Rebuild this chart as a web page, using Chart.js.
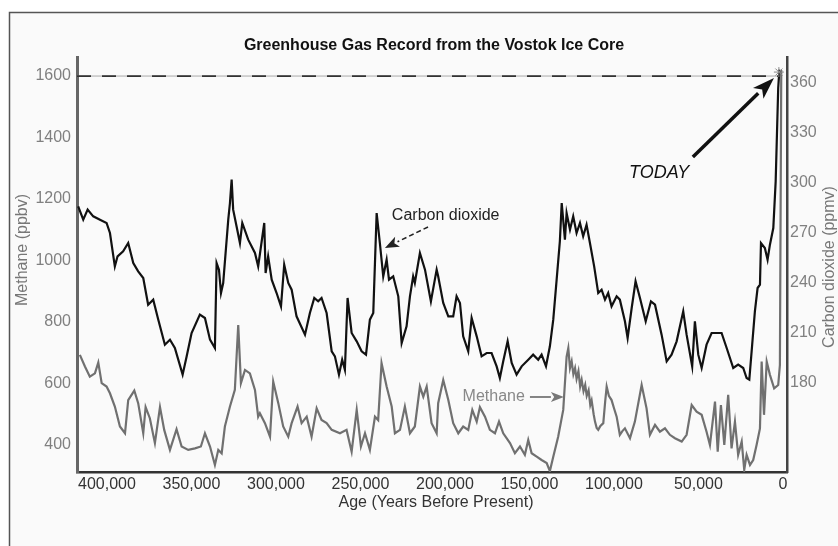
<!DOCTYPE html>
<html>
<head>
<meta charset="utf-8">
<title>Greenhouse Gas Record from the Vostok Ice Core</title>
<script src="https://cdn.jsdelivr.net/npm/chart.js@4.4.1/dist/chart.umd.min.js"></script>
<style>
  html, body { margin: 0; padding: 0; background: #fff; }
  canvas { display: block; }
</style>
</head>
<body>
<canvas id="chart" width="838" height="546"></canvas>
<script>
// values (age in years before present)
const co2Age = [417000, 414000, 411400, 408100, 404100, 400200, 398200, 395300, 393700, 390400,
  387400, 384400, 381500, 378500, 375600, 372600, 369600, 365700, 362700, 359800,
  355200, 352800, 349900, 345000, 342000, 339000, 336100, 335100, 333700, 332500,
  331200, 328200, 327200, 326200, 325300, 323300, 321300, 319900, 316400, 312400,
  310500, 306900, 306100, 304600, 302500, 299600, 297000, 295100, 292700, 290700,
  287800, 282800, 279900, 277300, 275000, 273000, 270000, 267000, 265100, 262700,
  260800, 259200, 257600, 255200, 252200, 249300, 246700, 244400, 242400, 240400,
  238500, 236500, 234500, 233100, 230600, 227600, 225600, 222700, 220700, 218800,
  217800, 214800, 211800, 208300, 204900, 204000, 201000, 198000, 195100, 193100,
  191100, 189200, 186200, 184200, 181200, 178300, 175300, 172400, 169400, 167500,
  165500, 162900, 160500, 157600, 154600, 150700, 147800, 144800, 142800, 140200,
  137900, 135900, 133900, 132000, 130900, 129000, 128000, 126000, 124100, 122100,
  120100, 118200, 116200, 114200, 111700, 109300, 107300, 105300, 103400, 101400,
  98400, 96500, 93500, 91900, 89500, 87200, 84600, 81200, 78100, 75700,
  71800, 68800, 65900, 62900, 59000, 57000, 53700, 52100, 50100, 48100,
  45200, 42200, 36300, 33300, 29400, 26500, 23500, 21500, 19900, 18200,
  16600, 15000, 13600, 13000, 10700, 9100, 7700, 5700, 4300, 2800, 2100];
const co2Ppmv = [286, 278, 284, 280, 278, 276, 270, 250, 256, 259,
  264, 252, 247, 243, 227, 230, 218, 203, 206, 201,
  185, 196, 210, 221, 219, 206, 201, 252, 248, 234,
  240, 278, 288, 302, 284, 274, 264, 276, 266, 258,
  250, 276, 246, 256, 242, 234, 226, 251, 240, 236,
  220, 209, 222, 231, 229, 231, 222, 199, 196, 185,
  194, 188, 231, 210, 205, 199, 197, 218, 222, 282,
  264, 244, 254, 242, 244, 232, 204, 214, 232, 244,
  240, 258, 248, 229, 248, 244, 228, 220, 220, 232,
  228, 208, 199, 219, 208, 196, 198, 198, 190, 183,
  193, 205, 192, 185, 190, 194, 197, 194, 197, 190,
  202, 218, 242, 265, 288, 266, 282, 272, 280, 270,
  276, 268, 275, 264, 250, 234, 236, 230, 234, 226,
  232, 230, 217, 207, 225, 241, 231, 217, 229, 227,
  209, 193, 197, 205, 223, 209, 190, 217, 197, 189,
  203, 210, 210, 201, 189, 191, 189, 183, 182, 203,
  223, 237, 239, 264, 261, 254, 263, 273, 301, 357, 368];

const ch4Age = [416000, 413000, 410100, 407100, 405100, 403100, 400200, 398200, 395300, 392300,
  389300, 387400, 383800, 381500, 378500, 377100, 374600, 371600, 368600, 366100,
  362700, 358800, 355800, 351900, 347900, 344400, 342000, 339000, 336100, 334100,
  332100, 330200, 327200, 324300, 322300, 320700, 318300, 315400, 312400, 310500,
  309500, 306500, 303500, 301600, 298600, 295700, 292700, 290700, 287200, 284800,
  281800, 278900, 275900, 273000, 270000, 267000, 262100, 258200, 255200, 252200,
  249700, 247300, 244400, 241400, 239500, 237500, 234500, 231500, 229600, 226600,
  223700, 220700, 217800, 214800, 212800, 210800, 207900, 204900, 204000, 201000,
  198000, 195100, 192100, 189200, 186200, 183800, 181200, 179300, 176300, 173400,
  170400, 168000, 165500, 161500, 158600, 155600, 152700, 150700, 148700, 145700,
  142800, 139800, 137900, 135900, 133000, 130000, 128000, 127000, 126000, 125000,
  124000, 123000, 122100, 121000, 120000, 119100, 118000, 117000, 116100, 115000,
  114000, 113200, 112000, 111200, 110200, 109300, 108000, 106300, 105200, 104300,
  103000, 101400, 100000, 98400, 96500, 95000, 93500, 90500, 87600, 83600,
  80700, 78700, 75700, 72800, 69800, 66900, 63900, 59900, 57000, 54000,
  51100, 48100, 45200, 43200, 40200, 38600, 36700, 34700, 32400, 30400,
  28400, 26500, 24400, 22900, 21500, 19500, 17600, 15600, 13600, 12600,
  11200, 9600, 7700, 5200, 2800, 1800, 1000];
const ch4Ppbv = [693, 655, 622, 633, 668, 601, 590, 568, 525, 460,
  438, 546, 577, 536, 438, 523, 487, 406, 523, 449,
  384, 451, 395, 384, 389, 395, 438, 395, 335, 384,
  373, 460, 525, 579, 790, 601, 644, 633, 579, 492,
  503, 471, 427, 606, 536, 460, 427, 471, 525, 471,
  492, 427, 519, 481, 471, 449, 438, 449, 378, 514,
  395, 438, 384, 492, 481, 666, 590, 525, 438, 449,
  525, 438, 460, 590, 557, 590, 471, 438, 536, 611,
  546, 471, 438, 460, 449, 514, 476, 523, 492, 449,
  438, 476, 438, 406, 373, 395, 368, 416, 373, 362,
  351, 341, 315, 362, 427, 514, 687, 715, 650, 672,
  630, 650, 615, 640, 590, 612, 575, 595, 560, 578,
  530, 545, 500, 476, 455, 449, 462, 471, 540, 590,
  560, 546, 520, 492, 433, 445, 454, 422, 476, 595,
  519, 433, 465, 443, 454, 433, 422, 411, 433, 530,
  508, 498, 443, 400, 541, 378, 530, 400, 563, 389,
  476, 368, 411, 319, 368, 335, 351, 400, 454, 671,
  498, 671, 628, 584, 595, 660, 1620];

const ageTicks = [400000, 350000, 300000, 250000, 200000, 150000, 100000, 50000, 0];
const ch4Ticks = [400, 600, 800, 1000, 1200, 1400, 1600];
const co2Ticks = [180, 210, 240, 270, 300, 330, 360];

// annotation anchors, in data units (age, methane ppbv)
const todayLine = 1600;
const notes = {
  star: [2400, 1613],
  today: [91100, 1268],
  todayArrow: [[53300, 1337], [5300, 1594]],
  co2Label: [231400, 1145],
  co2Arrow: [[210000, 1109], [235500, 1041]],
  ch4Label: [152700, 556],
  ch4Arrow: [[149700, 556], [129600, 556]]
};

const FONT = "'Liberation Sans', Arial, Helvetica, sans-serif";
Chart.defaults.font.family = FONT;
Chart.defaults.font.size = 16;

function pts(xs, ys) {
  return xs.map((x, i) => ({ x: x, y: ys[i] }));
}

function arrow(ctx, x1, y1, x2, y2, color, width, headLen, headW, dash) {
  const ang = Math.atan2(y2 - y1, x2 - x1);
  const bx = x2 - Math.cos(ang) * headLen;
  const by = y2 - Math.sin(ang) * headLen;
  ctx.save();
  ctx.strokeStyle = color;
  ctx.fillStyle = color;
  ctx.lineWidth = width;
  ctx.setLineDash(dash || []);
  ctx.beginPath();
  ctx.moveTo(x1, y1);
  ctx.lineTo(bx, by);
  ctx.stroke();
  ctx.setLineDash([]);
  ctx.beginPath();
  ctx.moveTo(x2, y2);
  ctx.lineTo(bx + Math.sin(ang) * headW / 2, by - Math.cos(ang) * headW / 2);
  ctx.lineTo(bx + Math.cos(ang) * headLen * 0.25, by + Math.sin(ang) * headLen * 0.25);
  ctx.lineTo(bx - Math.sin(ang) * headW / 2, by + Math.cos(ang) * headW / 2);
  ctx.closePath();
  ctx.fill();
  ctx.restore();
}

const decor = {
  id: 'decor',
  beforeDraw(chart) {
    const ctx = chart.ctx;
    ctx.save();
    ctx.fillStyle = '#fff';
    ctx.fillRect(0, 0, chart.width, chart.height);
    ctx.fillStyle = '#fafafa';
    ctx.fillRect(9, 12, chart.width, chart.height);
    ctx.strokeStyle = '#555';
    ctx.lineWidth = 1.5;
    ctx.strokeRect(9.5, 12.5, chart.width + 20, chart.height + 20);
    ctx.restore();
  },
  beforeDatasetsDraw(chart) {
    const ctx = chart.ctx;
    const x = chart.scales.x, y = chart.scales.yCH4;
    const py = y.getPixelForValue(todayLine);
    const x0 = chart.chartArea.left, x1 = x.getPixelForValue(3000);
    ctx.save();
    ctx.strokeStyle = '#aaa';
    ctx.lineWidth = 1;
    ctx.beginPath(); ctx.moveTo(x0, py); ctx.lineTo(x1, py); ctx.stroke();
    ctx.strokeStyle = '#333';
    ctx.lineWidth = 1.8;
    ctx.setLineDash([14, 11]);
    ctx.beginPath(); ctx.moveTo(x0, py); ctx.lineTo(x1, py); ctx.stroke();
    ctx.restore();
  },
  afterDatasetsDraw(chart) {
    const ctx = chart.ctx;
    const sx = chart.scales.x, sy = chart.scales.yCH4;
    const P = (a) => [sx.getPixelForValue(a[0]), sy.getPixelForValue(a[1])];

    // star at today's value
    const s = P(notes.star);
    ctx.save();
    ctx.strokeStyle = '#888';
    ctx.lineWidth = 1;
    for (let k = 0; k < 4; k++) {
      const a = k * Math.PI / 4;
      ctx.beginPath();
      ctx.moveTo(s[0] - Math.cos(a) * 5, s[1] - Math.sin(a) * 5);
      ctx.lineTo(s[0] + Math.cos(a) * 5, s[1] + Math.sin(a) * 5);
      ctx.stroke();
    }

    // TODAY
    const t = P(notes.today);
    ctx.fillStyle = '#111';
    ctx.font = 'italic 18px ' + FONT;
    ctx.textAlign = 'left';
    ctx.textBaseline = 'alphabetic';
    ctx.fillText('TODAY', t[0], t[1]);
    const a1 = P(notes.todayArrow[0]), a2 = P(notes.todayArrow[1]);
    arrow(ctx, a1[0], a1[1], a2[0], a2[1], '#111', 3.5, 22, 15);

    // carbon dioxide label
    const c = P(notes.co2Label);
    ctx.fillStyle = '#222';
    ctx.font = '16px ' + FONT;
    ctx.textBaseline = 'middle';
    ctx.fillText('Carbon dioxide', c[0], c[1]);
    const c1 = P(notes.co2Arrow[0]), c2 = P(notes.co2Arrow[1]);
    arrow(ctx, c1[0], c1[1], c2[0], c2[1], '#222', 1.5, 14, 11, [5, 3]);

    // methane label
    const m = P(notes.ch4Label);
    ctx.fillStyle = '#888';
    ctx.textAlign = 'right';
    ctx.fillText('Methane', m[0], m[1]);
    const m1 = P(notes.ch4Arrow[0]), m2 = P(notes.ch4Arrow[1]);
    arrow(ctx, m1[0], m1[1], m2[0], m2[1], '#777', 1.8, 13, 10);
    ctx.restore();
  },
  afterDraw(chart) {
    const ctx = chart.ctx;
    ctx.save();
    ctx.fillStyle = '#111';
    ctx.font = 'bold 16px ' + FONT;
    ctx.textAlign = 'center';
    ctx.textBaseline = 'alphabetic';
    ctx.fillText('Greenhouse Gas Record from the Vostok Ice Core', 434, 50);

    ctx.fillStyle = '#333';
    ctx.font = '16px ' + FONT;
    ctx.textBaseline = 'middle';
    ctx.fillText('Age (Years Before Present)', 436, 503);

    ctx.fillStyle = '#777';
    ctx.translate(23, 250);
    ctx.rotate(-Math.PI / 2);
    ctx.fillText('Methane (ppbv)', 0, 0);
    ctx.restore();

    ctx.save();
    ctx.fillStyle = '#777';
    ctx.font = '16px ' + FONT;
    ctx.textAlign = 'center';
    ctx.textBaseline = 'middle';
    ctx.translate(830, 267);
    ctx.rotate(-Math.PI / 2);
    ctx.fillText('Carbon dioxide (ppmv)', 0, 0);
    ctx.restore();
  }
};

new Chart(document.getElementById('chart'), {
  type: 'line',
  data: {
    datasets: [
      {
        label: 'Carbon dioxide',
        data: pts(co2Age, co2Ppmv),
        yAxisID: 'yCO2',
        borderColor: '#111',
        borderWidth: 2.2,
        pointRadius: 0,
        tension: 0
      },
      {
        label: 'Methane',
        data: pts(ch4Age, ch4Ppbv),
        yAxisID: 'yCH4',
        borderColor: '#707070',
        borderWidth: 2.2,
        pointRadius: 0,
        tension: 0
      }
    ]
  },
  options: {
    responsive: false,
    animation: false,
    devicePixelRatio: 1,
    layout: { padding: { top: 57, left: 0, right: 0, bottom: 0 } },
    plugins: {
      legend: { display: false },
      title: { display: false },
      tooltip: { enabled: false }
    },
    scales: {
      x: {
        type: 'linear',
        reverse: true,
        min: -2400,
        max: 417700,
        afterBuildTicks: (s) => { s.ticks = ageTicks.map(v => ({ value: v })); },
        afterFit: (s) => { s.height = 74; },
        ticks: {
          color: '#333',
          padding: 3,
          maxRotation: 0,
          autoSkip: false,
          callback: (v) => v.toLocaleString('en-US')
        },
        grid: { display: false, drawTicks: false },
        border: { display: true, color: '#333', width: 2.5 }
      },
      yCH4: {
        type: 'linear',
        position: 'left',
        min: 312,
        max: 1662,
        afterBuildTicks: (s) => { s.ticks = ch4Ticks.map(v => ({ value: v })); },
        afterFit: (s) => { s.width = 77; },
        ticks: { color: '#808080', padding: 6, callback: (v) => String(v) },
        grid: { display: false, drawTicks: false },
        border: { display: true, color: '#666', width: 3 }
      },
      yCO2: {
        type: 'linear',
        position: 'right',
        min: 126.6,
        max: 375.6,
        afterBuildTicks: (s) => { s.ticks = co2Ticks.map(v => ({ value: v })); },
        afterFit: (s) => { s.width = 51; },
        ticks: { color: '#808080', padding: 3, callback: (v) => String(v) },
        grid: { display: false, drawTicks: false },
        border: { display: true, color: '#444', width: 2.5 }
      }
    }
  },
  plugins: [decor]
});
</script>
</body>
</html>
